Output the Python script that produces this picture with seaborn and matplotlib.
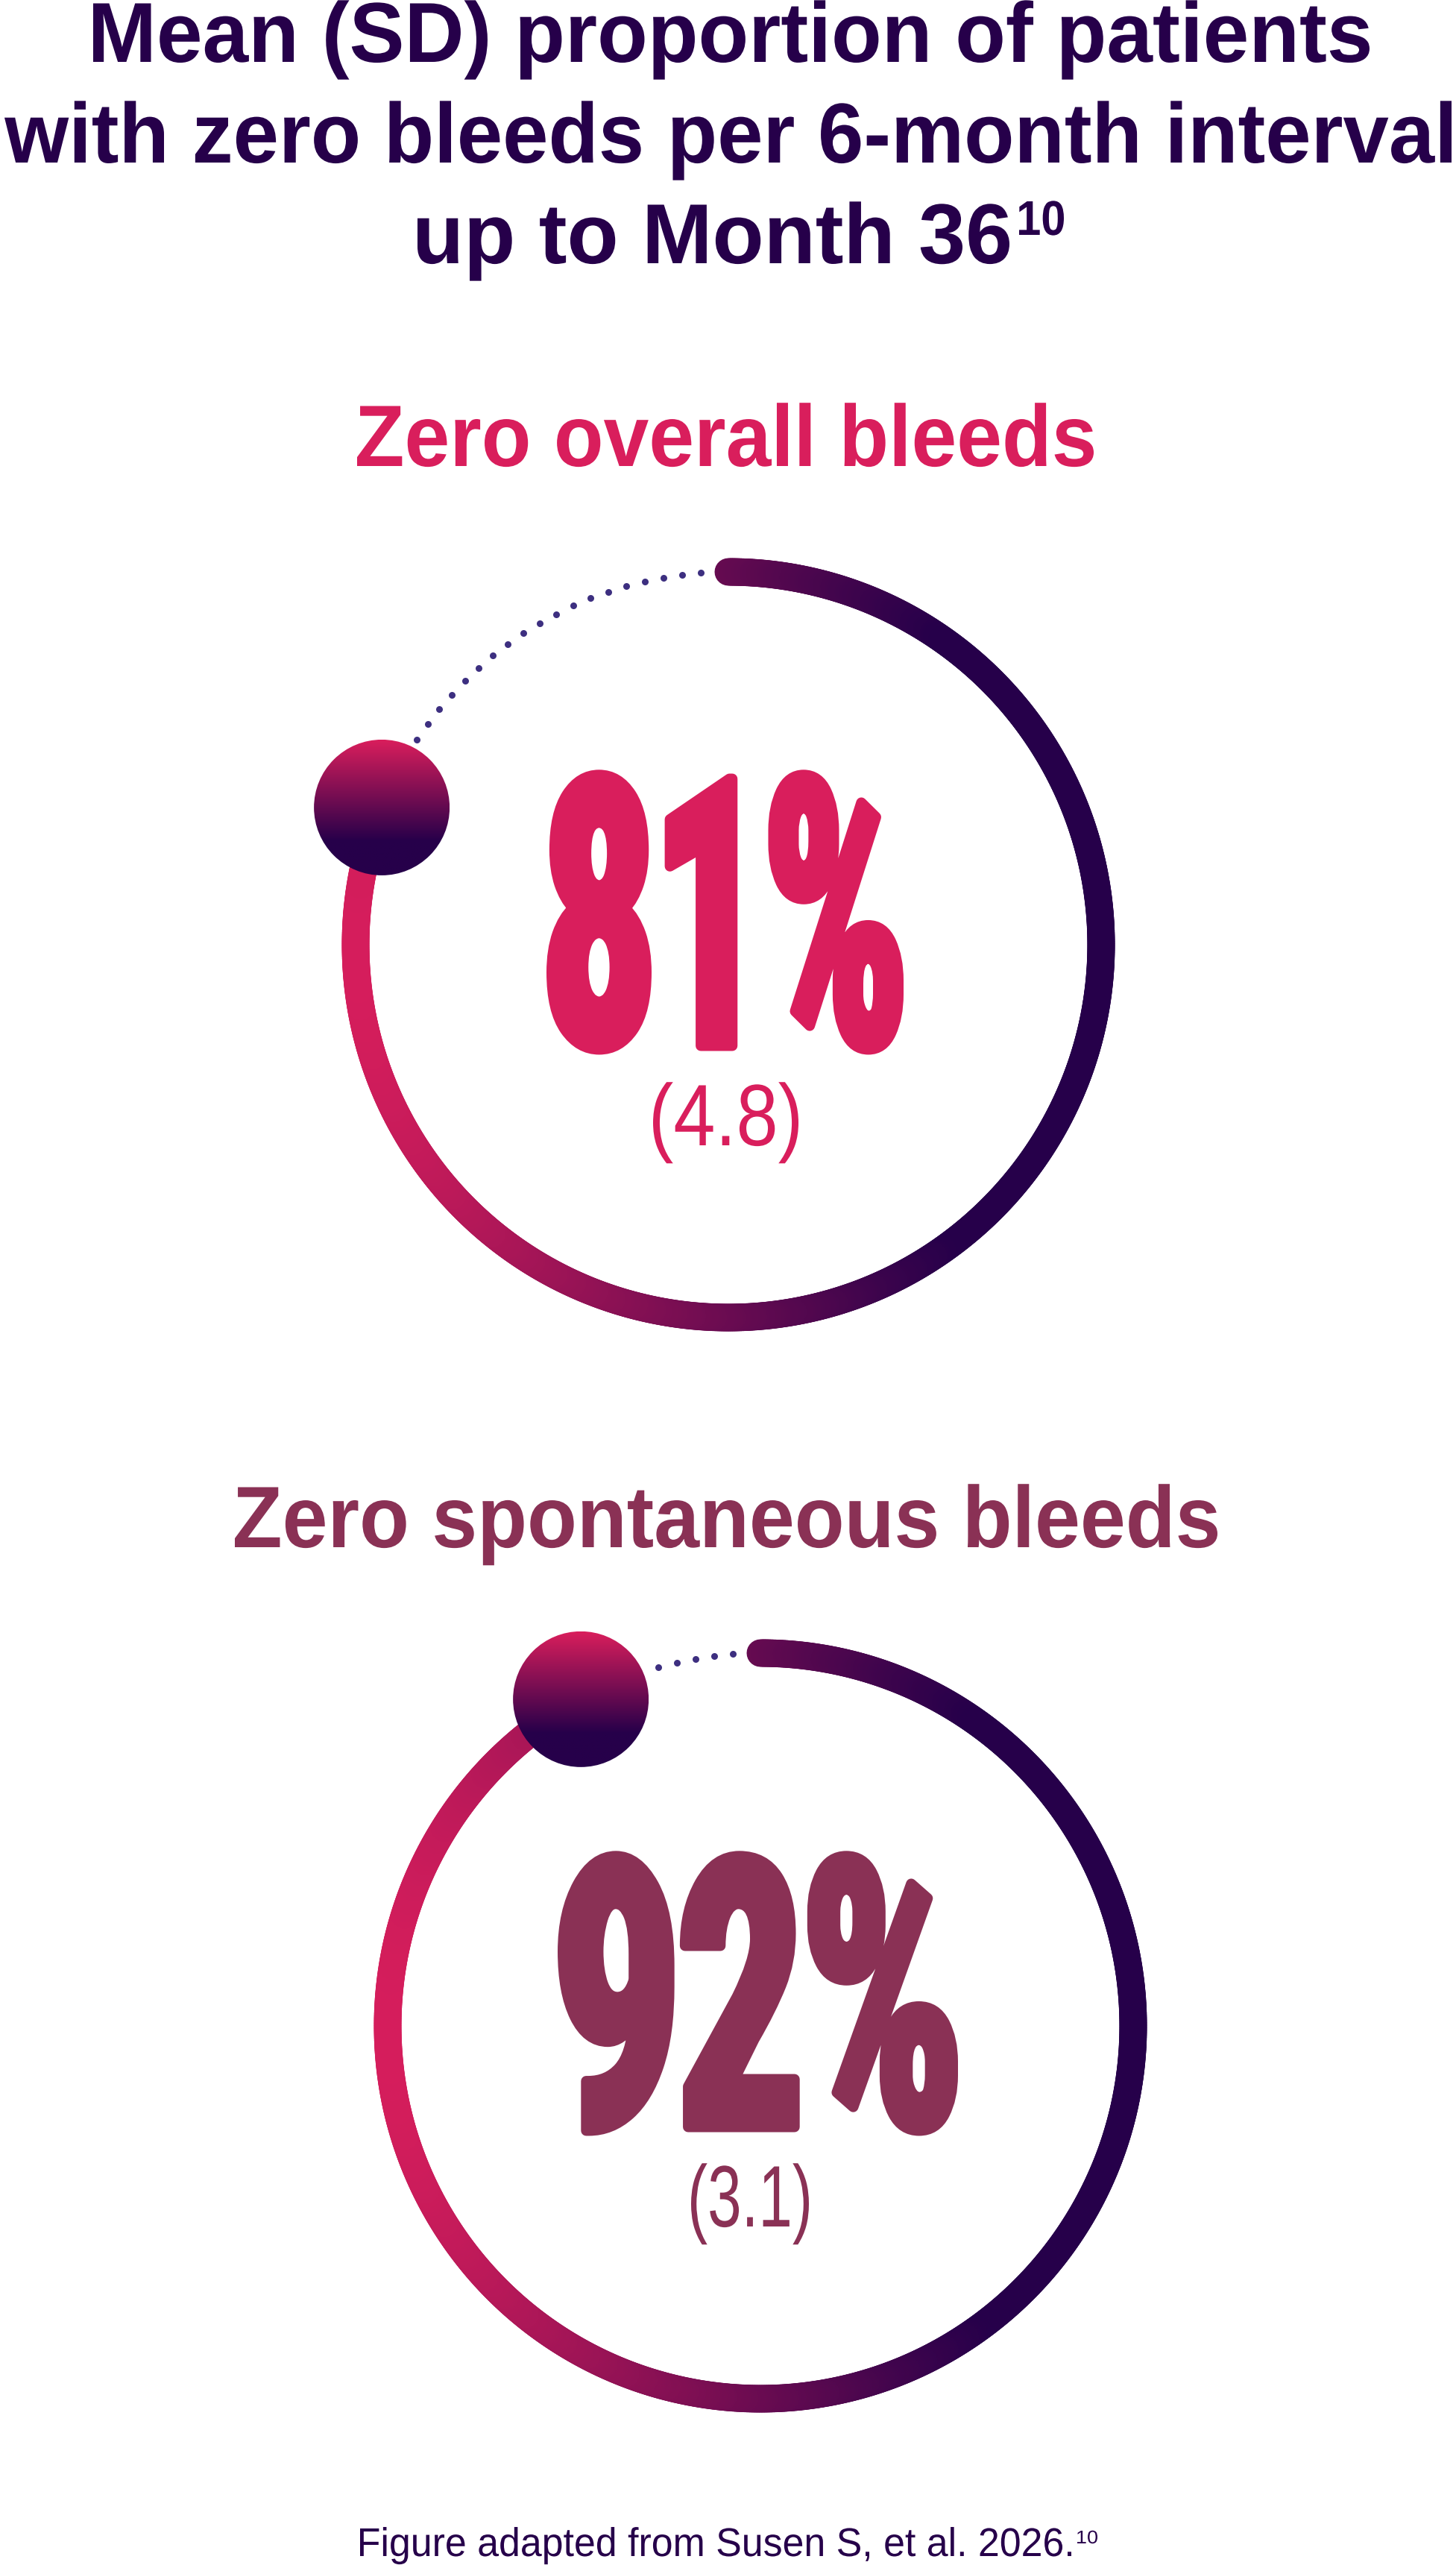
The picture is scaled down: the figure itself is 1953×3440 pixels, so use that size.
import numpy as np
import matplotlib
matplotlib.use("Agg")
import matplotlib.pyplot as plt
import seaborn as sns
from matplotlib.collections import LineCollection
from matplotlib.colors import LinearSegmentedColormap
from matplotlib.patches import Circle
from matplotlib.patheffects import AbstractPathEffect
from matplotlib.transforms import Affine2D, Bbox
from matplotlib.textpath import TextPath
from matplotlib.font_manager import FontProperties
from matplotlib.text import Text

# ---- data ----
panel_titles = ["Zero overall bleeds", "Zero spontaneous bleeds"]
mean_pct = [81, 92]
sd_pct = [4.8, 3.1]

title_lines = ["Mean (SD) proportion of patients",
               "with zero bleeds per 6-month interval",
               "up to Month 36"]
title_ref = "10"
source_note = "Figure adapted from Susen S, et al. 2026."
source_ref = "10"

# ---- colours ----
NAVY = "#26004A"
PINK = "#D91E5C"
WINE = "#8A3155"
DOT_COL = "#3D2F80"
panel_colors = [PINK, WINE]
ring_cmap = LinearSegmentedColormap.from_list("ring", [PINK, NAVY])

# ---- layout (pixels) ----
W, H, DPI = 1953, 3440, 100
PX = 72 / DPI  # points per pixel
centers = [(977, 1267), (1020, 2717)]
R = 500
RING_W = 37
BALL_R = 91
DOT_START = 37
DOT_STEP = 25.4
sub_span = [(479, 1467), (315, 1633)]
num_span = [(733, 1212), (748, 1285)]
sd_span = [(876, 1071), (927, 1085)]

sns.set_theme(style="white")
plt.rcParams["font.family"] = ["Liberation Sans", "DejaVu Sans"]

fp_bold = FontProperties(family=["Liberation Sans", "DejaVu Sans"], weight="bold")
fp_num = FontProperties(family=["Roboto", "DejaVu Sans"], weight="black")
fp_reg = FontProperties(family=["Liberation Sans", "DejaVu Sans"], weight="normal")

fig = plt.figure(figsize=(W / DPI, H / DPI), dpi=DPI)
ax = fig.add_axes([0, 0, 1, 1])


class Squeeze(AbstractPathEffect):
    # rescale the glyphs about their own centre / baseline, optionally fatten
    def __init__(self, sx, sy=1.0, fatten=0):
        super().__init__()
        self.sx = sx
        self.sy = sy
        self.fatten = fatten

    def draw_path(self, renderer, gc, tpath, affine, rgbFace=None):
        ext = tpath.get_extents()
        mid = (ext.x0 + ext.x1) / 2
        tr = (Affine2D().translate(-mid, 0).scale(self.sx, self.sy)
              .translate(mid, 0) + affine)
        if self.fatten:
            gc0 = renderer.new_gc()
            gc0.copy_properties(gc)
            gc0.set_linewidth(self.fatten * PX)
            gc0.set_joinstyle("round")
            renderer.draw_path(gc0, tpath, tr, rgbFace)
            gc0.restore()
        else:
            renderer.draw_path(gc, tpath, tr, rgbFace)


class InkText(Text):
    # reports the box of the ink actually drawn
    def __init__(self, *args, ink=None, **kwargs):
        super().__init__(*args, **kwargs)
        self._ink = ink

    def get_window_extent(self, renderer=None, dpi=None):
        bb = super().get_window_extent(renderer, dpi)
        if self._ink is None:
            return bb
        l, t, r, b = self._ink
        pts = self.get_transform().transform([(l, t), (r, b)])
        return Bbox([pts.min(axis=0), pts.max(axis=0)])


def fit_text(s, left, right, baseline, cap, fp, color, ref="H", fatten=0,
             shrink=1.0):
    h100 = TextPath((0, 0), ref, size=100, prop=fp).get_extents().height
    fs = (cap - fatten) * 100 * PX / h100 * shrink
    sy = 1 / shrink
    k = fs / 100 / PX  # px per TextPath unit (before sy)
    e = TextPath((0, 0), s, size=100, prop=fp).get_extents()
    sx = (right - left - fatten) / (e.width * k)
    x0 = (left + right) / 2 - (e.x0 + e.x1) / 2 * k
    y = baseline - fatten / 2
    ink = (left, y - e.y1 * k * sy - fatten / 2,
           right, y - e.y0 * k * sy + fatten / 2)
    p = fp.copy()
    p.set_size(fs)
    t = InkText(x0, y, s, fontproperties=p, color=color, ha="left",
                va="baseline", zorder=6, ink=ink,
                path_effects=[Squeeze(sx, sy, fatten)])
    ax.add_artist(t)
    return t


# ---- title ----
fit_text(title_lines[0], 125, 1837, 83, 78.5, fp_bold, NAVY)
fit_text(title_lines[1], 6, 1947, 218, 78.5, fp_bold, NAVY, shrink=0.95)
fit_text(title_lines[2], 560, 1354, 353, 78.5, fp_bold, NAVY, shrink=0.97)
fit_text(title_ref, 1367, 1427, 315, 45, fp_bold, NAVY, ref="1", shrink=0.9)

# ---- panels ----
for i, (name, pct, sd, col) in enumerate(zip(panel_titles, mean_pct, sd_pct, panel_colors)):
    cx, cy = centers[i]
    frac = pct / 100

    # solid arc, clockwise from 12 o'clock, gradient left->right
    ang = np.radians(90 - 360 * frac * np.linspace(0, 1, 900))
    xs = cx + R * np.cos(ang)
    ys = cy - R * np.sin(ang)
    pts = np.column_stack([xs, ys])
    segs = np.stack([pts[:-1], pts[1:]], axis=1)
    x_lo, x_hi = cx - R - RING_W / 2, cx + 0.58 * R
    lc = LineCollection(segs, cmap=ring_cmap, norm=plt.Normalize(x_lo, x_hi),
                        linewidths=RING_W * PX, capstyle="round", zorder=2)
    lc.set_array(np.clip((xs[:-1] + xs[1:]) / 2, x_lo, x_hi))
    ax.add_collection(lc)

    # dotted remainder, from the top back to the ball
    d_ball = (1 - frac) * 2 * np.pi * R
    d = np.arange(DOT_START, d_ball - BALL_R - 4, DOT_STEP)
    da = np.pi / 2 + d / R
    sns.scatterplot(x=cx + R * np.cos(da), y=cy - R * np.sin(da), ax=ax,
                    color=DOT_COL, s=(9 * PX) ** 2, linewidth=0, zorder=3,
                    legend=False)

    # ball at the end of the arc, vertical gradient
    a = np.radians(90 - 360 * frac)
    bx, by = cx + R * np.cos(a), cy - R * np.sin(a)
    circ = Circle((bx, by), BALL_R, facecolor="none", edgecolor="none")
    ax.add_patch(circ)
    grad = np.clip(np.linspace(0, 1, 300) / 0.75, 0, 1)[:, None]
    im = ax.imshow(grad, cmap=ring_cmap, vmin=0, vmax=1, origin="upper",
                   extent=(bx - BALL_R, bx + BALL_R, by + BALL_R, by - BALL_R),
                   interpolation="bilinear", aspect="auto", zorder=4)
    im.set_clip_path(circ)

    # texts
    fit_text(name, *sub_span[i], cy - 642, 80.5, fp_bold, col)
    fit_text(f"{pct}%", *num_span[i], cy + 142.5, 372, fp_num, col,
             fatten=14, shrink=0.38)
    fit_text(f"({sd})", *sd_span[i], cy + 269, 80.5, fp_reg, col, ref="4")

# ---- source ----
fit_text(source_note, 483, 1437, 3428, 37, fp_reg, NAVY, ref="F", shrink=0.93)
fit_text(source_ref, 1445, 1472, 3411, 17, fp_reg, NAVY, ref="1", shrink=0.85)

ax.set_xlim(0, W)
ax.set_ylim(H, 0)
ax.set_aspect("auto")
ax.axis("off")

fig.savefig("out.png", dpi=DPI, facecolor="white")
